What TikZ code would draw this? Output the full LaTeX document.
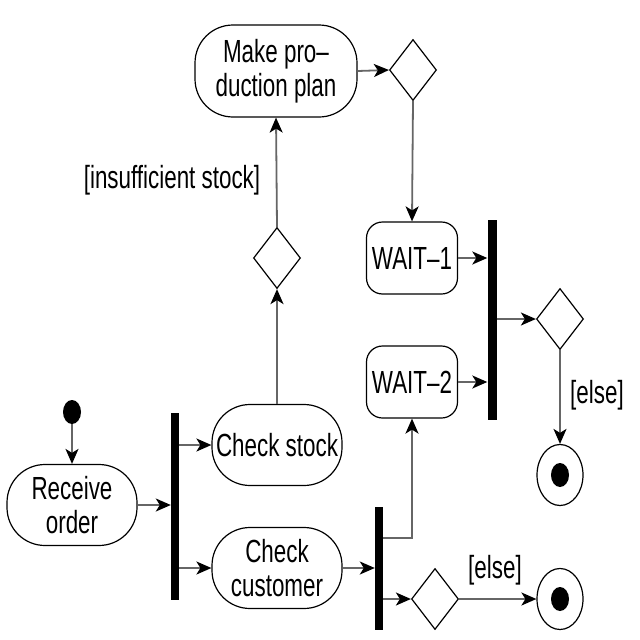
\documentclass[tikz,border=0pt]{standalone}
\usepackage{fontspec}
\setmainfont{Liberation Sans}[FakeStretch=0.7]
\usetikzlibrary{arrows.meta,positioning,shapes.geometric,shapes.misc}

\begin{document}
\begin{tikzpicture}[x=1pt, y=-1pt, >={Stealth[length=15pt,width=13pt,inset=4pt,color=black]},
 font=\fontsize{32}{34}\selectfont,
 flow/.style = {draw=black!60, line width=1.8pt},
 activity/.style = {draw, line width=1.2pt, rectangle, rounded corners=38pt, minimum width=130pt, minimum height=81pt, align=center, inner sep=2pt},
 waitbox/.style = {draw, line width=1.2pt, rectangle, rounded corners=16pt, minimum width=91pt, minimum height=72pt, inner sep=2pt},
 bar/.style = {fill=black, rectangle, inner sep=0pt, minimum width=8pt},
 decision/.style = {draw, line width=1.2pt, diamond, inner sep=0pt, minimum width=47pt, minimum height=61pt},
 initial/.style = {fill=black, ellipse, inner sep=0pt, minimum width=18pt, minimum height=24pt},
 final/.style = {draw, line width=1.2pt, ellipse, inner sep=0pt, minimum width=46pt, minimum height=61pt,
   path picture={\fill (path picture bounding box.center) ellipse (9pt and 12pt);}},
 guard/.style = {inner sep=0pt},
                        ]
    \useasboundingbox (0,0) rectangle (640,640);
    \node [initial]                     (start)   at (72,412)  {};
    \node [activity]                    (receive) at (72,505)  {Receive\\ order};
    \node [bar, minimum height=187pt]   (fork1)   at (175,506) {};
    \node [activity]                    (stock)   at (277,445) {Check stock};
    \node [activity]                    (customer) at (277,568) {Check\\ customer};
    \node [decision]                    (stockdec) at (277,258) {};
    \node [activity, minimum width=162pt, minimum height=92pt] (plan) at (276,71) {Make pro--\\ duction plan};
    \node [decision]                    (plandec) at (413,70)  {};
    \node [waitbox]                     (wait1)   at (412,258) {WAIT--1};
    \node [waitbox]                     (wait2)   at (412,382) {WAIT--2};
    \node [bar, minimum height=200pt, minimum width=9pt] (join)  at (492,320) {};
    \node [decision]                    (joindec) at (560,319) {};
    \node [final]                       (end1)    at (560,475) {};
    \node [bar, minimum height=123pt]   (fork2)   at (379,568) {};
    \node [decision]                    (custdec) at (435,599) {};
    \node [final]                       (end2)    at (560,599) {};
    \coordinate (bend) at (412,538);

%% guards
    \node [guard] (insuff) at (172,180) {[insufficient stock]};
    \node [guard] (else1)  at (597,395) {[else]};
    \node [guard] (else2)  at (495,570) {[else]};

%% paths
    \draw [flow,->] (start)    -- (receive);
    \draw [flow,->] (receive.east) -- (receive.east -| fork1.west);
    \draw [flow,->] (stock.west -| fork1.east) -- (stock.west);
    \draw [flow,->] (customer.west -| fork1.east) -- (customer.west);
    \draw [flow,->] (stock.north)  -- (stockdec.south);
    \draw [flow,->] (stockdec.north) -- (plan.south);
    \draw [flow,->] (plan.east)    -- (plandec.west);
    \draw [flow,->] (plandec.south) -- (wait1.north);
    \draw [flow,->] (wait1.east)   -- (wait1.east -| join.west);
    \draw [flow,->] (wait2.east)   -- (wait2.east -| join.west);
    \draw [flow,->] (joindec.west -| join.east) -- (joindec.west);
    \draw [flow,->] (joindec.south) -- (end1.north);
    \draw [flow,->] (customer.east) -- (customer.east -| fork2.west);
    \draw [flow,->] (bend -| fork2.east) -- (bend) -- (wait2.south);
    \draw [flow,->] (custdec.west -| fork2.east) -- (custdec.west);
    \draw [flow,->] (custdec.east) -- (end2.west);
\end{tikzpicture}
\end{document}
